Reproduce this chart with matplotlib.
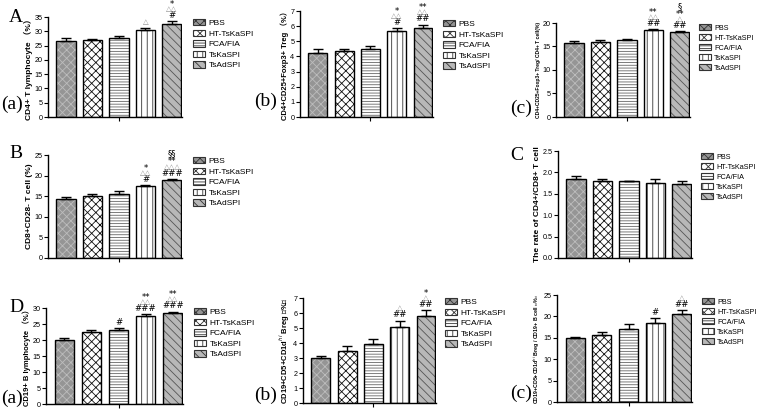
import matplotlib
matplotlib.use("Agg")
import matplotlib.pyplot as plt
from matplotlib.patches import Patch

plt.rcParams['font.family'] = ['Liberation Sans', 'DejaVu Sans', 'Noto Sans CJK SC']
plt.rcParams['hatch.linewidth'] = 0.6

W, H = 758, 411

groups = ["PBS", "HT-TsKaSPI", "FCA/FIA", "TsKaSPI", "TsAdSPI"]

# ---- data ----
cd4_mean = [26.5, 27.0, 27.6, 30.4, 32.7]
cd4_err = [1.0, 0.4, 0.7, 0.8, 0.8]
cd4_marks = [[], [], [], ["△"], ["#", "△△", "*"]]

treg_mean = [4.2, 4.35, 4.5, 5.7, 5.9]
treg_err = [0.3, 0.15, 0.2, 0.15, 0.2]
treg_marks = [[], [], [], ["#", "△△", "*"], ["##", "△△", "**"]]

tregr_mean = [15.8, 16.0, 16.3, 18.6, 18.0]
tregr_err = [0.4, 0.3, 0.3, 0.1, 0.2]
tregr_marks = [[], [], [], ["##", "△△", "**"], ["##", "△", "**", "§"]]

cd8_mean = [14.3, 15.0, 15.5, 17.4, 18.9]
cd8_err = [0.5, 0.6, 0.7, 0.3, 0.3]
cd8_marks = [[], [], [], ["#", "△△", "*"], ["###", "△△△", "**", "§§"]]

ratio_mean = [1.85, 1.81, 1.79, 1.75, 1.72]
ratio_err = [0.07, 0.03, 0.02, 0.10, 0.07]
ratio_marks = [[], [], [], [], []]

cd19_mean = [20.1, 22.4, 23.1, 27.4, 28.3]
cd19_err = [0.5, 0.7, 0.6, 0.6, 0.6]
cd19_marks = [[], [], ["#"], ["###", "△△", "**"], ["###", "△△", "**"]]

breg_mean = [3.0, 3.5, 3.95, 5.1, 5.8]
breg_err = [0.15, 0.3, 0.35, 0.4, 0.4]
breg_marks = [[], [], [], ["##", "△"], ["##", "△", "*"]]

bregr_mean = [15.0, 15.6, 17.1, 18.5, 20.5]
bregr_err = [0.3, 0.8, 1.1, 1.1, 1.0]
bregr_marks = [[], [], [], ["#"], ["##", "△"]]

# ---- styles ----
styles = [
    dict(face="#959595", hatch="xxxx", hc="#bdbdbd"),
    dict(face="white", hatch="xxxx", hc="#111111"),
    dict(face="white", hatch="------", hc="#666666"),
    dict(face="white", hatch="|||", hc="#333333"),
    dict(face="#b8b8b8", hatch="\\\\\\\\", hc="#555555"),
]

fig = plt.figure(figsize=(W / 100, H / 100), dpi=100)
fig.patch.set_facecolor("white")


def add_ax(x0, yt, x1, yb):
    return fig.add_axes([x0 / W, 1 - yb / H, (x1 - x0) / W, (yb - yt) / H])


def panel(rect, mean, err, marks, ymax, ystep, ylabel, leg_xy, ylfs=6.0,
          ticklabfmt=None, legfs=6.0):
    ax = add_ax(*rect)
    x = list(range(len(mean)))
    for i in x:
        st = styles[i]
        ax.bar(i, mean[i], width=0.72, color=st["face"], hatch=st["hatch"],
               edgecolor=st["hc"], linewidth=0, zorder=2)
        ax.bar(i, mean[i], width=0.72, fill=False, edgecolor="black",
               linewidth=1.0, zorder=3)
    ax.errorbar(x, mean, yerr=[[0] * len(err), err], fmt="none", ecolor="black",
                elinewidth=1.0, capsize=3.5, capthick=1.0, zorder=4)
    for i in x:
        top = mean[i] + err[i]
        for k, m in enumerate(marks[i]):
            tri = "△" in m
            col = "#8a8a8a" if tri else "black"
            fs = 5.3 if tri else 6.2
            dy = 4.2 + 4.6 * k
            if m.startswith("*"):
                dy -= 1.2
            ax.annotate(m, (i, top), xytext=(0, dy), textcoords="offset points",
                        ha="center", va="center", fontsize=fs, color=col,
                        annotation_clip=False, family=['DejaVu Sans'])
    ax.set_xlim(-0.68, 4.38)
    ax.set_ylim(0, ymax)
    ticks = []
    v = 0.0
    while v <= ymax + 1e-9:
        ticks.append(round(v, 3))
        v += ystep
    ax.set_yticks(ticks)
    if ticklabfmt:
        ax.set_yticklabels([ticklabfmt.format(t) for t in ticks])
    ax.set_xticks([2])
    ax.set_xticklabels([""])
    for s in ["top", "right"]:
        ax.spines[s].set_visible(False)
    for s in ["left", "bottom"]:
        ax.spines[s].set_linewidth(1.0)
    ax.tick_params(axis="y", labelsize=5.2, length=3, width=0.8, pad=1)
    ax.tick_params(axis="x", length=3, width=0.8)
    ax.set_ylabel(ylabel, fontsize=ylfs, fontweight="bold", labelpad=1,
                  family=['Liberation Sans', 'Noto Sans CJK SC'])
    handles = [Patch(facecolor=st["face"], hatch=st["hatch"], edgecolor="#333333",
                     linewidth=0.8) for st in styles]
    ax.legend(handles, groups, loc="upper left",
              bbox_to_anchor=(leg_xy[0] / W, 1 - leg_xy[1] / H),
              bbox_transform=fig.transFigure, frameon=False, fontsize=legfs,
              handlelength=1.45 * 6.0 / legfs, handleheight=0.8 * 6.0 / legfs,
              labelspacing=0.3 * 6.0 / legfs,
              borderpad=0, borderaxespad=0, handletextpad=0.45)
    return ax


panel((48, 17, 182, 117), cd4_mean, cd4_err, cd4_marks, 35, 5,
      "CD4+ T lymphocyte （%）", (193, 19))
panel((300, 11, 433, 117), treg_mean, treg_err, treg_marks, 7, 1,
      "CD4+CD25+Foxp3+ Treg （%）", (443, 20), ylfs=5.5)
panel((556, 23, 690, 117), tregr_mean, tregr_err, tregr_marks, 20, 5,
      "CD4+CD25+Foxp3+ Treg/ CD4+ T cell(%)", (699, 24), ylfs=3.6, legfs=5.2)
panel((48, 155, 182, 258), cd8_mean, cd8_err, cd8_marks, 25, 5,
      "CD8+CD28- T cell (%)", (193, 157))
panel((558, 151, 692, 258), ratio_mean, ratio_err, ratio_marks, 2.5, 0.5,
      "The rate of CD4+/CD8+ T cell", (701, 153), ticklabfmt="{:.1f}", legfs=5.2)
panel((46, 308, 183, 404), cd19_mean, cd19_err, cd19_marks, 30, 5,
      "CD19+ B lymphocyte （%）", (194, 308), ylfs=5.5)
panel((303, 298, 436, 403), breg_mean, breg_err, breg_marks, 7, 1,
      "CD19+CD5+CD1d$^{hi}$ Breg （%）", (445, 298), ylfs=5.5)
panel((557, 295, 692, 402), bregr_mean, bregr_err, bregr_marks, 25, 5,
      "CD19+CD5+CD1d$^{hi}$ Breg / CD19+ B cell （%）", (702, 298), ylfs=3.8,
      legfs=5.2)

# panel letters
serif = ['Liberation Serif', 'DejaVu Serif']
labels = [("A", 16, 18, 14), ("B", 16, 154, 14), ("C", 517, 155, 14), ("D", 16, 308, 14),
          ("(a)", 12, 104, 14), ("(b)", 266, 101, 14), ("(c)", 521, 108, 14),
          ("(a)", 12, 398, 14), ("(b)", 266, 395, 14), ("(c)", 521, 393, 14)]
for t, x, y, fs in labels:
    fig.text(x / W, 1 - y / H, t, ha="center", va="center", fontsize=fs, family=serif)

fig.savefig("out.png", dpi=100, facecolor="white")
